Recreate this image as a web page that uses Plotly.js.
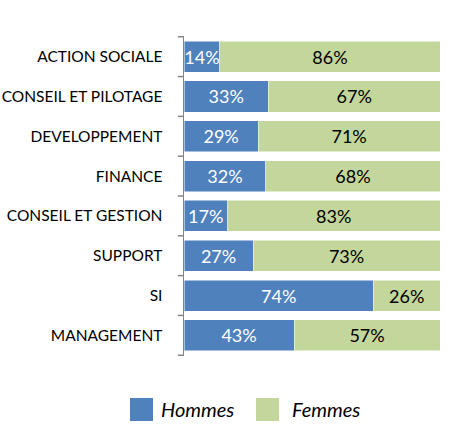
<!DOCTYPE html>
<html><head><meta charset="utf-8">
<script src="https://cdn.plot.ly/plotly-3.0.1.min.js"></script>
<style>html,body{margin:0;padding:0;background:#fff}</style>
</head><body>
<div id="chart" style="width:453px;height:425px"></div>
<script>
const categories = ["ACTION SOCIALE","CONSEIL ET PILOTAGE","DEVELOPPEMENT","FINANCE","CONSEIL ET GESTION","SUPPORT","SI","MANAGEMENT"];
const hommes = [14,33,29,32,17,27,74,43];
const femmes = [86,67,71,68,83,73,26,57];
const seriesNames = ["Hommes","Femmes"];
const seriesColors = ["#4f81bd","#c3d69b"];

const font = "Lato, 'Open Sans', sans-serif";
const M = {l:184, r:13, t:36, b:69};
const W = 453, H = 425;
const pw = W - M.l - M.r, ph = H - M.t - M.b;
const px2x = p => (p - M.l) / pw;
const px2y = p => (H - M.b - p) / ph;

const common = {
  type:'bar', orientation:'h', y:categories,
  textposition:'inside', insidetextanchor:'middle', textangle:0,
  constraintext:'none', cliponaxis:false, hoverinfo:'none', showlegend:false
};
const data = [
  Object.assign({}, common, {
    name:seriesNames[0], x:hommes, text:hommes.map(v=>v+'%'),
    marker:{color:seriesColors[0], line:{color:'#ffffff', width:0.5}},
    insidetextfont:{color:'#ffffff', size:18, family:font, weight:400}
  }),
  Object.assign({}, common, {
    name:seriesNames[1], x:femmes, text:femmes.map(v=>v+'%'),
    marker:{color:seriesColors[1], line:{color:'#ffffff', width:0.5}},
    insidetextfont:{color:'#000000', size:18, family:font, weight:400}
  })
];

// custom legend (large squares like the reference)
const legendItems = [{sx:130, tx:159}, {sx:256, tx:290}];
const legendShapes = legendItems.map((it,i)=>({type:'rect', xref:'paper', yref:'paper',
  x0:px2x(it.sx), x1:px2x(it.sx+23), y0:px2y(421), y1:px2y(398),
  fillcolor:seriesColors[i], line:{width:0}}));
const legendAnn = legendItems.map((it,i)=>({xref:'paper', yref:'paper', x:px2x(it.tx), y:px2y(409),
  xanchor:'left', yanchor:'middle', showarrow:false, text:seriesNames[i],
  font:{size:20, family:font, style:'italic', weight:400, color:'#000'}}));

const tickShapes = categories.concat(['']).map((c,i)=>({type:'line', xref:'paper', yref:'y',
  x0:-0.024, x1:0, y0:i-0.5, y1:i-0.5, line:{color:'#868686', width:1.5}}));

const layout = {
  width:W, height:H, barmode:'stack', bargap:0.22,
  margin:Object.assign({autoexpand:false}, M),
  paper_bgcolor:'#fff', plot_bgcolor:'#fff',
  font:{family:font, size:15, color:'#000', weight:400},
  xaxis:{range:[0,100], visible:false, fixedrange:true},
  yaxis:{autorange:'reversed', showline:true, linecolor:'#868686', linewidth:1.5,
         ticks:'', showgrid:false, zeroline:false, ticklabelstandoff:17, automargin:false,
         tickfont:{size:15.5, family:font, weight:400}},
  shapes: tickShapes.concat(legendShapes),
  annotations: legendAnn,
  showlegend:false
};
Plotly.newPlot('chart', data, layout, {displayModeBar:false, staticPlot:true});
</script>
</body></html>
